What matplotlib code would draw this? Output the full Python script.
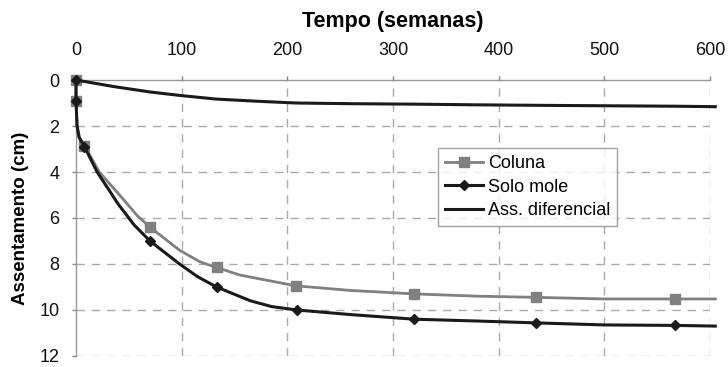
import matplotlib.pyplot as plt

plt.rcParams['font.family'] = ['Liberation Sans', 'DejaVu Sans']

# Tempo (semanas) e assentamentos (cm)
t_coluna = [0, 0, 1, 3, 8, 22, 45, 58, 70, 98, 117, 133, 155, 208, 260, 320, 380, 435, 500, 567, 605]
s_coluna = [0, 0.9, 2.0, 2.5, 2.85, 4.0, 5.2, 5.9, 6.4, 7.4, 7.9, 8.15, 8.48, 8.95, 9.15, 9.3, 9.4, 9.45, 9.52, 9.52, 9.52]
mk_coluna = [0, 1, 4, 8, 11, 13, 15, 17, 19]

t_solo = [0, 0, 1, 3, 8, 20, 40, 55, 70, 98, 115, 133, 165, 185, 209, 260, 320, 380, 435, 500, 567, 605]
s_solo = [0, 0.9, 2.0, 2.5, 2.9, 4.0, 5.4, 6.3, 7.0, 8.0, 8.55, 9.0, 9.6, 9.85, 10.0, 10.2, 10.4, 10.48, 10.56, 10.65, 10.67, 10.7]
mk_solo = [0, 1, 4, 8, 11, 14, 16, 18, 20]

t_dif = [0, 35, 70, 100, 133, 170, 208, 260, 320, 380, 435, 500, 567, 605]
s_dif = [0, 0.28, 0.52, 0.68, 0.83, 0.92, 1.0, 1.03, 1.05, 1.08, 1.1, 1.12, 1.14, 1.16]

x_ticks = [0, 100, 200, 300, 400, 500, 600]
y_ticks = [0, 2, 4, 6, 8, 10, 12]

fig = plt.figure(figsize=(7.28, 3.67), dpi=100)
ax = fig.add_axes([0.1044, 0.0300, 0.8709, 0.7520])

ax.plot(t_coluna, s_coluna, color='#808080', lw=2, marker='s', ms=6.5,
        markevery=mk_coluna, label='Coluna', clip_on=False, zorder=3)
ax.plot(t_solo, s_solo, color='#1a1a1a', lw=2.2, marker='D', ms=5.5,
        markevery=mk_solo, label='Solo mole', clip_on=False, zorder=4)
ax.plot(t_dif, s_dif, color='#1a1a1a', lw=2.2, label='Ass. diferencial',
        clip_on=False, zorder=4)

ax.set_xlim(0, 600)
ax.set_ylim(12, 0)
ax.set_xticks(x_ticks)
ax.set_yticks(y_ticks)
ax.xaxis.tick_top()
ax.xaxis.set_label_position('top')
ax.tick_params(axis='both', labelsize=13, colors='#888888', labelcolor='#111111',
               length=3, width=1)
ax.tick_params(axis='x', pad=12)
ax.tick_params(axis='y', pad=9)

ax.set_xlabel('Tempo (semanas)', fontsize=15.5, fontweight='bold', labelpad=11)
ax.set_ylabel('Assentamento (cm)', fontsize=13.5, fontweight='bold', labelpad=7)

for side in ['right', 'bottom']:
    ax.spines[side].set_visible(False)
for side in ['top', 'left']:
    ax.spines[side].set_color('#999999')
    ax.spines[side].set_linewidth(1)

# grade tracejada
for x in x_ticks[1:]:
    ax.axvline(x, color='#aaaaaa', lw=1, ls=(0, (6, 5)), zorder=1)
for y in y_ticks[1:]:
    ax.axhline(y, color='#aaaaaa', lw=1, ls=(0, (6, 5)), zorder=1)

leg = ax.legend(loc='upper left', bbox_to_anchor=(0.571, 0.753), borderaxespad=0,
                fontsize=13, frameon=True, fancybox=False, handlelength=2.1,
                handletextpad=0.25, borderpad=0.4, labelspacing=0.35)
leg.get_frame().set_edgecolor('#888888')
leg.get_frame().set_linewidth(1)

fig.savefig('out.png', dpi=100)
